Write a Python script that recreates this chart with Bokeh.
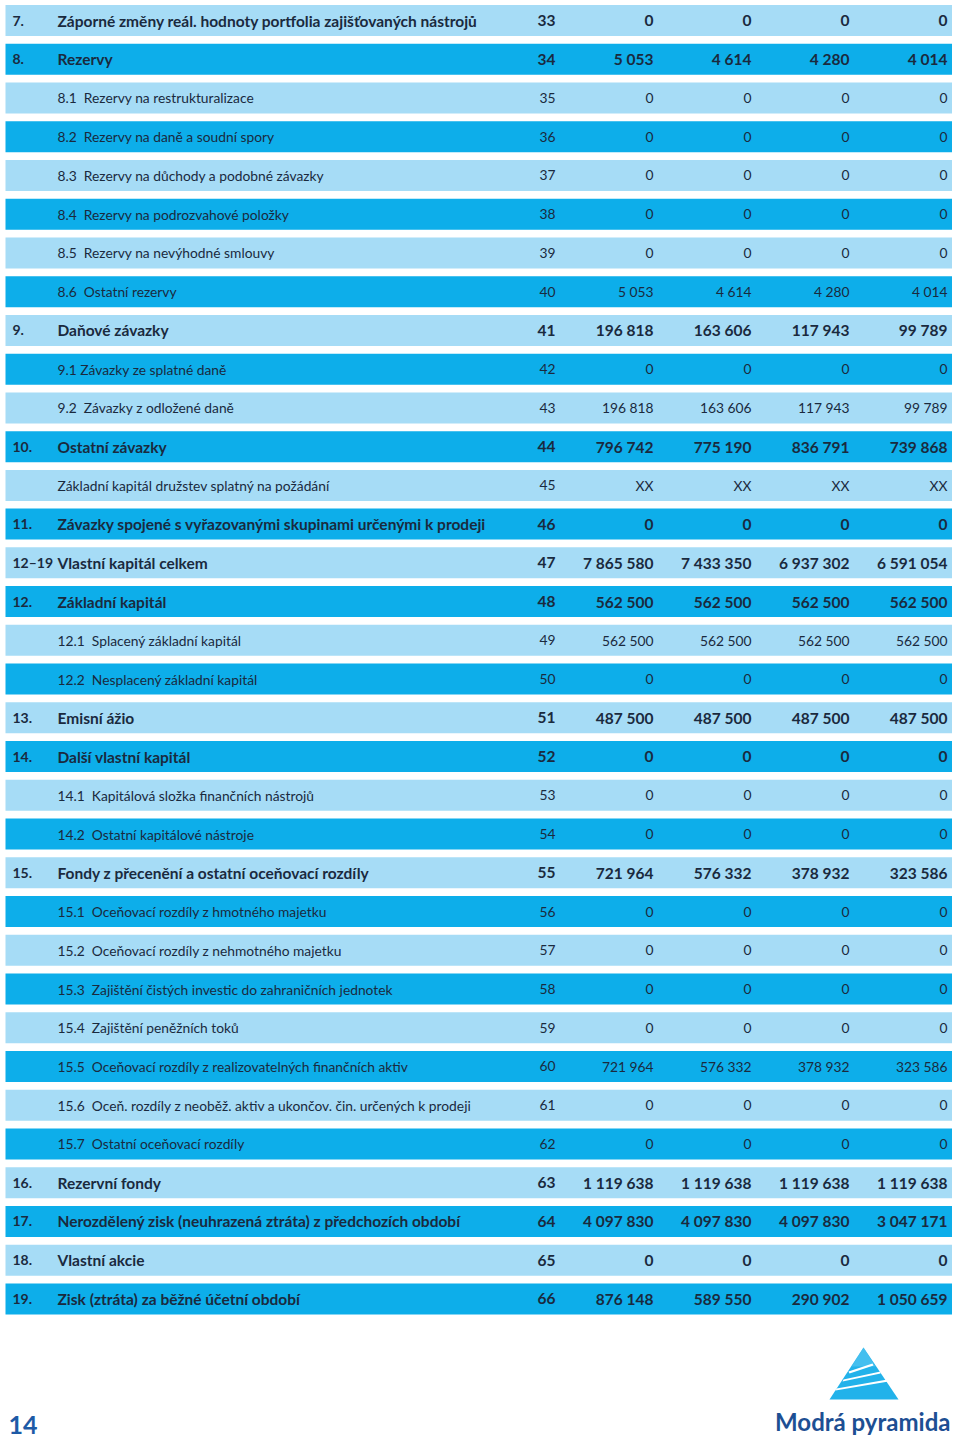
from bokeh.plotting import figure
from bokeh.models import ColumnDataSource, Range1d
from bokeh.embed import file_html
from bokeh.resources import INLINE
from bokeh.core.properties import value

# ---------------- data ----------------
codes = ["7.", "8.", "", "", "", "", "", "", "9.", "", "", "10.", "", "11.", "12–19", "12.", "", "", "13.",
         "14.", "", "", "15.", "", "", "", "", "", "", "", "16.", "17.", "18.", "19."]
labels = [
    "Záporné změny reál. hodnoty portfolia zajišťovaných nástrojů",
    "Rezervy",
    "8.1\u00a0 Rezervy na restrukturalizace",
    "8.2\u00a0 Rezervy na daně a soudní spory",
    "8.3\u00a0 Rezervy na důchody a podobné závazky",
    "8.4\u00a0 Rezervy na podrozvahové položky",
    "8.5\u00a0 Rezervy na nevýhodné smlouvy",
    "8.6\u00a0 Ostatní rezervy",
    "Daňové závazky",
    "9.1 Závazky ze splatné daně",
    "9.2\u00a0 Závazky z odložené daně",
    "Ostatní závazky",
    "Základní kapitál družstev splatný na požádání",
    "Závazky spojené s vyřazovanými skupinami určenými k prodeji",
    "Vlastní kapitál celkem",
    "Základní kapitál",
    "12.1\u00a0 Splacený základní kapitál",
    "12.2\u00a0 Nesplacený základní kapitál",
    "Emisní ážio",
    "Další vlastní kapitál",
    "14.1\u00a0 Kapitálová složka finančních nástrojů",
    "14.2\u00a0 Ostatní kapitálové nástroje",
    "Fondy z přecenění a ostatní oceňovací rozdíly",
    "15.1\u00a0 Oceňovací rozdíly z hmotného majetku",
    "15.2\u00a0 Oceňovací rozdíly z nehmotného majetku",
    "15.3\u00a0 Zajištění čistých investic do zahraničních jednotek",
    "15.4\u00a0 Zajištění peněžních toků",
    "15.5\u00a0 Oceňovací rozdíly z realizovatelných finančních aktiv",
    "15.6\u00a0 Oceň. rozdíly z neoběž. aktiv a ukončov. čin. určených k prodeji",
    "15.7\u00a0 Ostatní oceňovací rozdíly",
    "Rezervní fondy",
    "Nerozdělený zisk (neuhrazená ztráta) z předchozích období",
    "Vlastní akcie",
    "Zisk (ztráta) za běžné účetní období",
]
line_no = list(range(33, 67))
bold = [True, True, False, False, False, False, False, False, True, False, False, True, False, True, True, True,
        False, False, True, True, False, False, True, False, False, False, False, False, False, False,
        True, True, True, True]
col1 = [0, 5053, 0, 0, 0, 0, 0, 5053, 196818, 0, 196818, 796742, None, 0, 7865580, 562500, 562500, 0, 487500,
        0, 0, 0, 721964, 0, 0, 0, 0, 721964, 0, 0, 1119638, 4097830, 0, 876148]
col2 = [0, 4614, 0, 0, 0, 0, 0, 4614, 163606, 0, 163606, 775190, None, 0, 7433350, 562500, 562500, 0, 487500,
        0, 0, 0, 576332, 0, 0, 0, 0, 576332, 0, 0, 1119638, 4097830, 0, 589550]
col3 = [0, 4280, 0, 0, 0, 0, 0, 4280, 117943, 0, 117943, 836791, None, 0, 6937302, 562500, 562500, 0, 487500,
        0, 0, 0, 378932, 0, 0, 0, 0, 378932, 0, 0, 1119638, 4097830, 0, 290902]
col4 = [0, 4014, 0, 0, 0, 0, 0, 4014, 99789, 0, 99789, 739868, None, 0, 6591054, 562500, 562500, 0, 487500,
        0, 0, 0, 323586, 0, 0, 0, 0, 323586, 0, 0, 1119638, 3047171, 0, 1050659]

page_number = "14"
brand = "Modrá pyramida"

# ---------------- layout / style ----------------
W, H = 952, 1438
ROW0, PITCH, BAR_H = 20.0, 38.74, 31.0
X_LEFT, X_RIGHT = 5, 955
X_CODE, X_LABEL = 12, 57
X_LINE = 555
X_COLS = [653, 751, 849, 947]
LIGHT, DARK = "#a6dcf6", "#0daeea"
TXT = "#1a2a3e"
FONT = "Lato"
FS_REG, FS_BOLD = "13.8px", "15.5px"


def fmt(v):
    if v is None:
        return "XX"
    return f"{v:,}".replace(",", " ")


n = len(labels)
ys = [ROW0 + i * PITCH for i in range(n)]
colors = [LIGHT if i % 2 == 0 else DARK for i in range(n)]

p = figure(width=W, height=H, output_backend="svg", toolbar_location=None,
           x_range=Range1d(0, W), y_range=Range1d(H, 0),
           min_border=0, outline_line_color=None, background_fill_color="white",
           border_fill_color="white")
p.axis.visible = False
p.grid.visible = False

bars = ColumnDataSource(dict(y=ys, c=colors))
p.hbar(y="y", left=X_LEFT, right=X_RIGHT, height=BAR_H, fill_color="c", line_color=None, source=bars)


def src(sel):
    idx = [i for i in range(n) if bold[i] == sel]
    d = dict(y=[ys[i] for i in idx], code=[codes[i] for i in idx], label=[labels[i] for i in idx],
             ln=[str(line_no[i]) for i in idx])
    for k, col in enumerate([col1, col2, col3, col4]):
        d[f"v{k}"] = [fmt(col[i]) for i in idx]
    return ColumnDataSource(d)


for sel, style, fs in [(True, "bold", FS_BOLD), (False, "normal", FS_REG)]:
    s = src(sel)
    common = dict(source=s, text_baseline="middle", text_font=value(FONT),
                  text_font_style=style, text_color=TXT)
    p.text(x=X_CODE, y="y", text="code", text_align="left", text_font_size="14px", **common)
    p.text(x=X_LABEL, y="y", text="label", text_align="left", text_font_size=fs, **common)
    p.text(x=X_LINE, y="y", text="ln", text_align="right", text_font_size=fs, **common)
    for k, xc in enumerate(X_COLS):
        p.text(x=xc, y="y", text=f"v{k}", text_align="right", text_font_size=fs, **common)

# page number
p.text(x=[8], y=[1424], text=[page_number], text_align="left", text_baseline="middle",
       text_font=value(FONT), text_font_size="25px", text_font_style="bold", text_color="#1d5aa6")

# logo: triangle with white zig-zag cuts
p.patch(x=[863, 829, 898], y=[1347, 1399, 1399], fill_color="#22b2ea", line_color=None)
p.patch(x=[863, 851, 875], y=[1347, 1366, 1366], fill_color="#5cc8f2", line_color=None, fill_alpha=0.6)
cuts_x = [[848, 872, 873, 849], [843, 880, 880, 842], [836, 887, 888, 835]]
cuts_y = [[1371, 1363, 1365, 1373], [1379, 1371, 1373, 1381], [1388, 1379, 1381, 1390]]
p.patches(xs=cuts_x, ys=cuts_y, fill_color="white", line_color=None)
p.text(x=[950], y=[1421], text=[brand], text_align="right", text_baseline="middle",
       text_font=value(FONT), text_font_size="24px", text_font_style="bold", text_color="#1d4f93")

open("out.html", "w").write(file_html(p, INLINE))
